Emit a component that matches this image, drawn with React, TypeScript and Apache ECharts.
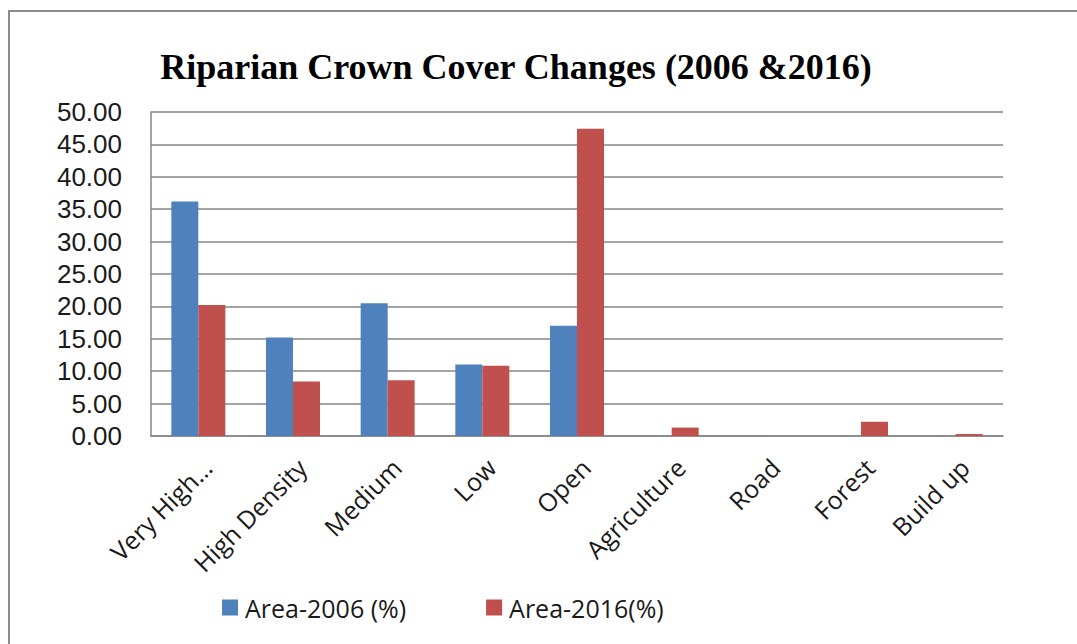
import React, { useEffect, useRef } from "react";
import * as echarts from "echarts";

const categories = ["Very High…", "High Density", "Medium", "Low", "Open", "Agriculture", "Road", "Forest", "Build up"];
const area2006 = [36.2, 15.2, 20.5, 11.05, 17.0, 0, 0, 0, 0];
const area2016 = [20.2, 8.4, 8.6, 10.85, 47.4, 1.3, 0, 2.2, 0.3];
const seriesNames = ["Area-2006 (%)", "Area-2016(%)"];
const titleText = "Riparian Crown Cover Changes (2006 &2016)";

export default function App() {
  const ref = useRef<HTMLDivElement>(null);
  useEffect(() => {
    if (!ref.current) return;
    const chart = echarts.init(ref.current, undefined, { renderer: "svg" });
    const sans = "'Open Sans', sans-serif";
    chart.setOption({
      animation: false,
      backgroundColor: "#ffffff",
      title: {
        text: titleText,
        left: 511,
        textAlign: "center",
        top: 44,
        textStyle: {
          fontFamily: "'Liberation Serif', 'DejaVu Serif', serif",
          fontWeight: "bold",
          fontSize: 36,
          color: "#000000",
        },
      },
      graphic: [
        {
          type: "rect",
          shape: { x: 9, y: 11, width: 1200, height: 800 },
          style: { fill: "none", stroke: "#8c8c8c", lineWidth: 2 },
          silent: true,
        },
      ],
      legend: {
        left: 222,
        top: 595,
        padding: 0,
        itemWidth: 16,
        itemHeight: 16,
        itemGap: 80,
        icon: "rect",
        data: seriesNames,
        textStyle: { fontFamily: sans, fontSize: 25, color: "#1a1a1a", padding: [0, 0, 0, 2] },
      },
      grid: { left: 151, right: 74, top: 112, bottom: 208, containLabel: false },
      xAxis: {
        type: "category",
        data: categories,
        axisLine: { show: true, lineStyle: { color: "#868686", width: 1.5 } },
        axisTick: { show: false },
        axisLabel: {
          interval: 0,
          rotate: 45,
          margin: 18,
          verticalAlign: "top",
          fontFamily: sans,
          fontSize: 25,
          color: "#1a1a1a",
        },
      },
      yAxis: {
        type: "value",
        min: 0,
        max: 50,
        interval: 5,
        axisLine: { show: true, lineStyle: { color: "#868686", width: 1.5 } },
        axisTick: { show: false },
        splitLine: { show: true, lineStyle: { color: "#868686", width: 1.5 } },
        axisLabel: {
          margin: 29,
          fontFamily: "'Liberation Sans', Arial, sans-serif",
          fontSize: 26,
          lineHeight: 28,
          color: "#1a1a1a",
          formatter: (v: number) => v.toFixed(2),
        },
      },
      series: [
        {
          name: seriesNames[0],
          type: "bar",
          data: area2006,
          barWidth: 27,
          barGap: "0%",
          itemStyle: { color: "#4f81bd" },
        },
        {
          name: seriesNames[1],
          type: "bar",
          data: area2016,
          barWidth: 27,
          barGap: "0%",
          itemStyle: { color: "#c0504d" },
        },
      ],
    });
    return () => chart.dispose();
  }, []);
  return (
    <div
      ref={ref}
      style={{ position: "fixed", left: 0, top: 0, width: 1077, height: 644 }}
    />
  );
}
